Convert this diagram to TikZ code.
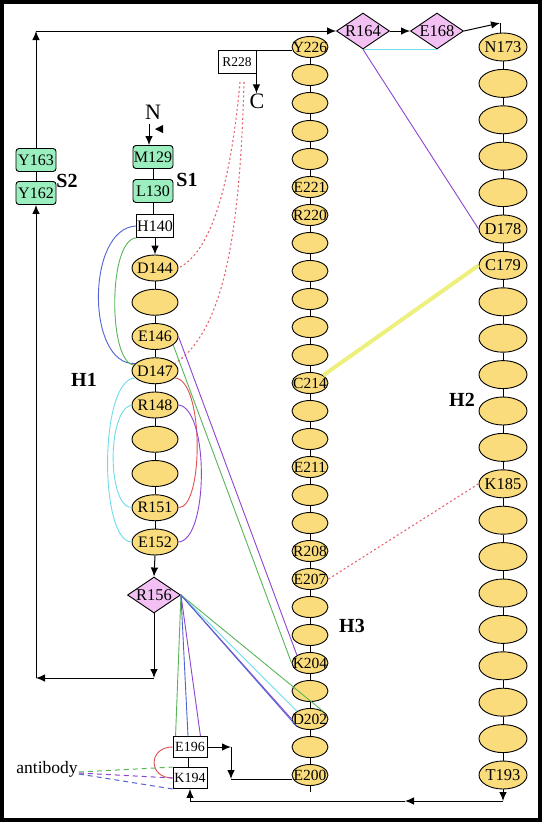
\documentclass[tikz,border=0pt]{standalone}
\usepackage{fontspec}
\setmainfont{Liberation Serif}
\usetikzlibrary{arrows.meta,shapes.geometric,calc}
\definecolor{ellY}{RGB}{250,220,125}
\definecolor{boxG}{RGB}{155,238,190}
\definecolor{diaP}{RGB}{242,192,242}
\definecolor{cBlue}{RGB}{80,100,210}
\definecolor{cGreen}{RGB}{90,180,90}
\definecolor{cPurple}{RGB}{140,70,210}
\definecolor{cCyan}{RGB}{110,220,235}
\definecolor{cRed}{RGB}{225,80,80}
\definecolor{cRedDot}{RGB}{230,100,110}
\definecolor{cYel}{RGB}{238,240,125}
\newcommand{\zt}[1]{\makebox[0pt]{#1}}
\newcommand{\fsz}[1]{\fontsize{#1}{#1}\selectfont}
\begin{document}
\begin{tikzpicture}[x=1pt,y=-1pt,
  e1/.style={ellipse, draw, line width=0.9, fill=ellY, minimum width=46, minimum height=26, inner sep=0, font=\fsz{16}},
  e2/.style={ellipse, draw, line width=0.9, fill=ellY, minimum width=48, minimum height=28, inner sep=0, font=\fsz{16.5}},
  e3/.style={ellipse, draw, line width=0.9, fill=ellY, minimum width=36, minimum height=21, inner sep=0, font=\fsz{15.5}},
  gbox/.style={rectangle, rounded corners=3, draw, line width=0.9, fill=boxG, minimum width=40, minimum height=23, inner sep=0, font=\fsz{16}},
  wbox/.style={rectangle, draw, line width=0.9, fill=white, minimum width=37, minimum height=23, inner sep=0, font=\fsz{16}},
  sbox/.style={rectangle, draw, line width=0.9, fill=white, minimum width=34, minimum height=21, inner sep=0, font=\fsz{14}},
  dia/.style={diamond, draw, line width=0.9, fill=diaP, minimum width=53, minimum height=36, inner sep=0, font=\fsz{16.5}},
  big/.style={font=\fsz{20}\bfseries, inner sep=0},
  conn/.style={line width=1},
  arr/.style={line width=1, -{Latex[length=9,width=7.5]}},
  thin/.style={line width=0.9},
  reddot/.style={line width=1.1, cRedDot, dash pattern=on 2pt off 2.5pt},
  abd/.style={line width=1, dash pattern=on 5pt off 4pt}
]
\useasboundingbox (0,0) rectangle (542,822);
\fill[white] (0,0) rectangle (542,822);

% ---- H3 column
\foreach \t [count=\k from 0] in {Y226,,,,,E221,R220,,,,,,C214,,,E211,,,R208,E207,,,K204,,D202,,E200}{
  \pgfmathtruncatemacro{\r}{226-\k}
  \node[e3] (h\r) at (310,{47+28*\k}) {\zt{\t}};
}
\foreach \r in {200,...,225}{\pgfmathtruncatemacro{\s}{\r+1}\draw[conn] (h\r.north) -- (h\s.south);}
\draw[conn] (h200.south) -- ++(0,6);

% ---- H2 column
\foreach \t [count=\k from 0] in {N173,,,,,D178,C179,,,,,,K185,,,,,,,,T193}{
  \pgfmathtruncatemacro{\r}{173+\k}
  \node[e2] (g\r) at (503,{47+36.4*\k}) {\zt{\t}};
}
\foreach \r in {173,...,192}{\pgfmathtruncatemacro{\s}{\r+1}\draw[conn] (g\r.south) -- (g\s.north);}

% ---- H1 column
\foreach \t [count=\k from 0] in {D144,,E146,D147,R148,,,R151,E152}{
  \pgfmathtruncatemacro{\r}{144+\k}
  \node[e1] (h\r) at (155,{268+34.25*\k}) {\zt{\t}};
}
\foreach \r in {144,...,151}{\pgfmathtruncatemacro{\s}{\r+1}\draw[conn] (h\r.south) -- (h\s.north);}

% ---- boxes and diamonds
\node[gbox] (Y163) at (36,160) {Y163};
\node[gbox] (Y162) at (36,193) {Y162};
\node[gbox] (M129) at (153,157) {M129};
\node[gbox] (L130) at (153,191) {L130};
\node[wbox] (H140) at (155,226) {H140};
\node[wbox, minimum width=38, font=\fsz{13.5}] (R228) at (237,62) {R228};
\node[sbox] (E196) at (190,747) {E196};
\node[sbox] (K194) at (190,778) {K194};
\node[dia] (R156) at (154,595) {\zt{R156}};
\node[dia] (R164) at (363,31) {\zt{R164}};
\node[dia] (E168) at (437,31) {\zt{E168}};

% ---- labels
\node[font=\fsz{22}, inner sep=0] (N) at (153,112) {N};
\node[font=\fsz{22}, inner sep=0] (C) at (257,101) {C};
\node[big] (S1) at (187,180) {S1};
\node[big] (S2) at (67,181) {S2};
\node[big] (H1) at (84,380) {H1};
\node[big] (H2) at (462,400) {H2};
\node[big] (H3) at (352,626) {H3};
\node[font=\fsz{17.5}, inner sep=0] (ab) at (47,769) {antibody};

% ---- coordinates
\coordinate (tl) at (36,31);
\coordinate (bl1) at (154,678);
\coordinate (bl2) at (36,678);
\coordinate (nt) at (500,23);
\coordinate (c1) at (231,747);
\coordinate (c2) at (231,779);
\coordinate (br) at (503,801);
\coordinate (bm) at (405,801);
\coordinate (bk) at (190,801);

% ---- black connectors
\draw[arr] ($(N.south)+(-4,5)$) -- ($(M129.north)+(-4,0)$);
\fill (155,129) -- (163,125) -- (163,133) -- cycle;
\draw[conn] (M129.south) -- (L130.north);
\draw[conn] (L130.south) -- (L130.south |- H140.north);
\draw[arr] (H140.south) -- (h144.north);
\draw[arr] (h152.south) -- (R156.north);
\draw[arr] (R156.south) -- (bl1);
\draw[arr] (bl1) -- (bl2);
\draw[arr] (bl2) -- (Y162.south);
\draw[conn] (Y162.north) -- (Y163.south);
\draw[arr] (Y163.north) -- (tl);
\draw[arr] (tl) -- (R164.west);
\draw[arr] (R164.east) -- (E168.west);
\draw[arr] (E168.east) -- (nt);
\draw[conn] (nt) -- (nt |- g173.north);
\draw[conn] (R228.north east) -- (R228.north east -| h226.west);
\draw[arr] (R228.north east) -- (R228.north east |- C.north);
\draw[arr] (g193.south) -- (br);
\draw[arr] (br) -- (bm);
\draw[conn] (bm) -- (bk);
\draw[arr] (bk) -- (K194.south);
\draw[conn] ($(E196.south)+(-2,0)$) -- ($(K194.north)+(-2,0)$);
\draw[arr] (E196.east) -- (c1);
\draw[arr] (c1) -- (c2);
\draw[conn] (c2) -- (c2 -| h200.west);

% ---- coloured interactions
\draw[cCyan, line width=1.1] (R164.south) -- (E168.south);
\draw[cPurple, thin] (R164.south) -- (g178.west);
\draw[cYel, line width=4] (h214.30) -- (g179.west);
\draw[reddot] (h207.east) -- (g185.west);
\draw[reddot] ($(R228.south)+(3,8)$) .. controls (232,170) and (215,250) .. (h144.east);
\draw[reddot] ($(R228.south)+(7,8)$) .. controls (240,230) and (225,330) .. (h147.20);

\draw[cBlue, thin] (H140.west) .. controls (86,228) and (86,366) .. (h147.160);
\draw[cGreen, thin] (H140.south west) .. controls (108,240) and (108,362) .. (h147.165);
\draw[cCyan, thin] (h147.200) .. controls (99,379) and (99,541) .. (h152.west);
\draw[cCyan, thin] (h148.west) .. controls (107,410) and (107,506) .. (h151.west);
\draw[cRed, thin] (h147.-20) .. controls (204,379) and (204,508) .. (h151.east);
\draw[cPurple, thin] (h148.east) .. controls (209,408) and (209,540) .. (h152.east);

\draw[cPurple, thin] (h146.east) -- (h204.north west);
\draw[cGreen, thin] (h146.-25) -- (h204.west);

\draw[cGreen, thin] (R156.east) -- ($(E196.north west)+(3,0)$);
\draw[cBlue, thin] (R156.east) -- ($(E196.north)+(-2,0)$);
\draw[cPurple, thin] (R156.east) -- ($(E196.north east)+(-7,0)$);
\draw[cGreen, thin] (R156.east) -- (h202.north east);
\draw[cCyan, thin] (R156.east) -- (h202.north west);
\draw[cPurple, thin] (R156.east) -- (h202.west);
\draw[cBlue, thin] (R156.east) -- (h202.south west);

\draw[cRed, thin] (E196.west) .. controls (148,747) and (148,778) .. (K194.west);
\draw[abd, cGreen] ($(ab.east)+(1,3)$) -- (K194.north west);
\draw[abd, cPurple] ($(ab.east)+(1,4)$) -- (K194.west);
\draw[abd, cBlue] ($(ab.east)+(1,5)$) -- (K194.south west);

% ---- frame
\draw[line width=4] (2,2) rectangle (540,820);
\end{tikzpicture}
\end{document}
